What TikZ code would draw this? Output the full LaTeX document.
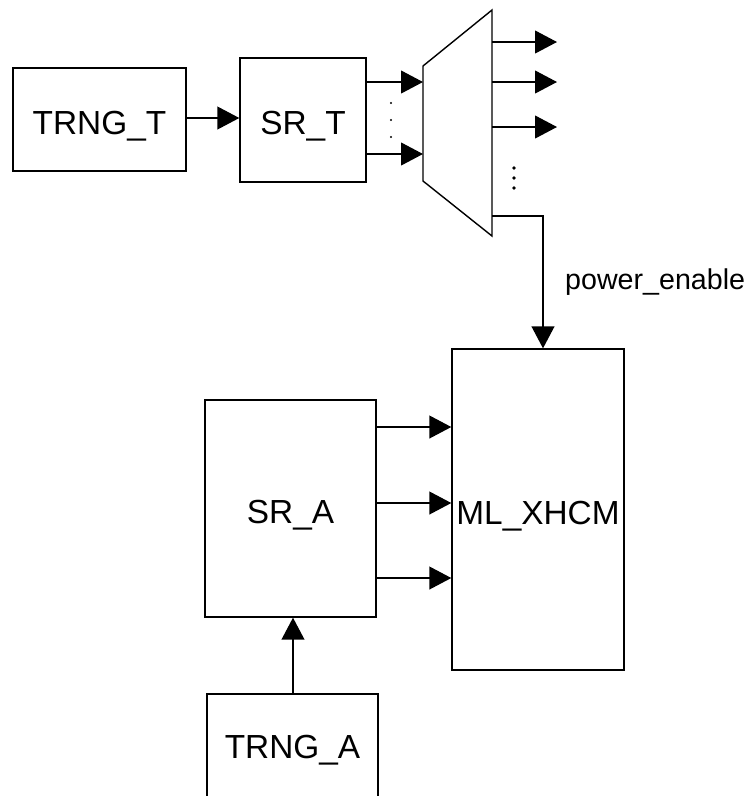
\documentclass[tikz,border=0pt]{standalone}
\usepackage{fontspec}
\setmainfont{Liberation Sans}
\usetikzlibrary{arrows.meta}

\tikzset{
  lbl/.style={font=\fontsize{19}{21}\selectfont, text height=17pt, text depth=0pt},
  blk/.style={draw, line width=0.8pt, inner xsep=1pt, lbl},
  sig/.style={line width=0.8pt, -{Triangle[length=12.5pt, width=13pt]}},
  wire/.style={line width=0.8pt}
}

\begin{document}
\begin{tikzpicture}[x=0.02cm, y=-0.02cm]
  \useasboundingbox (0,0) rectangle (749,796);
  \clip (0,0) rectangle (749,796);
  % top chain
  \node[blk, minimum width=3.46cm, minimum height=2.06cm] (trngT) at (99.5,119.5) {TRNG\_T};
  \node[blk, minimum width=2.52cm, minimum height=2.48cm] (srT)   at (303,120)    {SR\_T};
  \draw[sig] (trngT.east |- 0,118) -- (srT.west |- 0,118);
  % demux
  \coordinate (muxTL) at (423,66);
  \coordinate (muxTR) at (492,10);
  \coordinate (muxBR) at (492,236);
  \coordinate (muxBL) at (423,181);
  \draw[wire] (muxTL) -- (muxTR) -- (muxBR) -- (muxBL) -- cycle;
  \draw[sig] (srT.east |- 0,82)  -- (muxTL |- 0,82);
  \draw[sig] (srT.east |- 0,154) -- (muxTL |- 0,154);
  \foreach \y in {103,120,137}
    \fill (391,\y) circle (0.6pt);
  % outputs
  \foreach \y/\n in {42/a,82/b,127/c} {
    \coordinate (out\n) at (557,\y);
    \draw[sig] (muxTR |- out\n) -- (out\n);
  }
  \foreach \y in {168,178,188}
    \fill (514,\y) circle (1.1pt);
  % lower blocks
  \node[blk, minimum width=3.44cm, minimum height=6.42cm] (ml)    at (538,509.5) {ML\_XHCM};
  \node[blk, minimum width=3.42cm, minimum height=4.34cm] (srA)   at (290.5,508.5) {SR\_A};
  \node[blk, minimum width=3.42cm, minimum height=2.40cm] (trngA) at (292.5,754) {};
  \node[lbl] (trngAtxt) at (292.5,743.5) {TRNG\_A};
  \coordinate (pe) at (543,216);
  \draw[sig] (muxBR |- pe) -- (pe) -- (pe |- ml.north);
  \node[font=\fontsize{16.3}{18}\selectfont, anchor=west] (pelbl) at (559,282) {power\_enable};
  \foreach \y in {427,503,578}
    \draw[sig] (srA.east |- 0,\y) -- (ml.west |- 0,\y);
  \draw[sig] (trngA.north -| 293,0) -- (srA.south -| 293,0);
\end{tikzpicture}
\end{document}
